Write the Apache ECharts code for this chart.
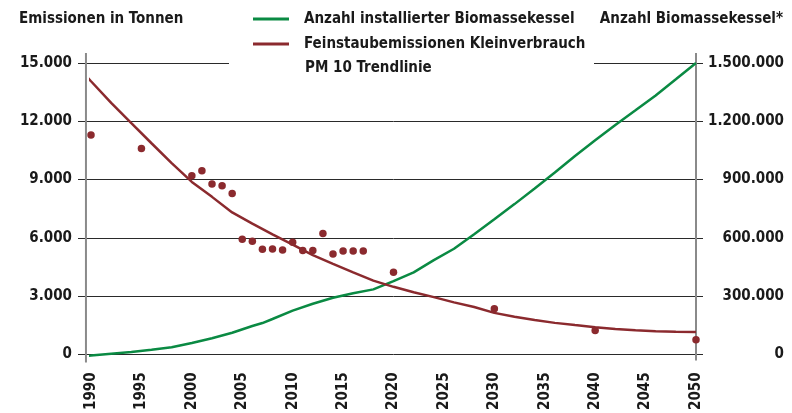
<!DOCTYPE html>
<html><head><meta charset="utf-8">
<script src="https://cdn.jsdelivr.net/npm/echarts@6/dist/echarts.min.js"></script>
<style>html,body{margin:0;padding:0;background:#fff}#c{width:792px;height:413px}</style>
</head><body><div id="c"></div>
<script>
const xTicks = [1990, 1995, 2000, 2005, 2010, 2015, 2020, 2025, 2030, 2035, 2040, 2045, 2050];
const leftTicks = [0, 3000, 6000, 9000, 12000, 15000];
const rightTicks = [0, 300000, 600000, 900000, 1200000, 1500000];

const trendYears = [1989.5,1990,1992,1994,1996,1998,2000,2002,2004,2006,2008,2010,2012,2014,2016,2018,2020,2022,2024,2026,2028,2030,2032,2034,2036,2038,2040,2042,2044,2046,2048,2050];
const trendValues = [14340,14060,12950,11900,10870,9850,8880,8110,7310,6735,6180,5650,5110,4660,4220,3800,3480,3200,2950,2680,2440,2140,1940,1770,1625,1510,1400,1310,1240,1200,1170,1150];

const boilerYears = [1989.5,1990,1992,1994,1996,1998,2000,2002,2004,2006,2007,2008,2010,2012,2014,2016,2018,2020,2022,2024,2026,2028,2030,2032,2034,2036,2038,2040,2042,2044,2046,2048,2050];
const boilerValues = [-8000,-6000,3200,12400,24100,36800,59000,83100,111400,146500,161600,182500,225200,261000,291500,314800,335000,376900,422400,485200,544000,618600,695600,773700,853800,936300,1021600,1102200,1181000,1256300,1333200,1416200,1500000];

const emissionYears = [1990,1995,2000,2001,2002,2003,2004,2005,2006,2007,2008,2009,2010,2011,2012,2013,2014,2015,2016,2017,2020,2030,2040,2050];
const emissionValues = [11300,10600,9200,9450,8770,8680,8280,5930,5820,5420,5430,5380,5770,5350,5350,6220,5170,5330,5330,5320,4230,2350,1230,750];

const names = ['Anzahl installierter Biomassekessel', 'Feinstaubemissionen Kleinverbrauch PM 10 Trendlinie', 'Feinstaubemissionen'];
const FONT = "'Liberation Sans Narrow', 'DejaVu Sans Condensed', 'Roboto Condensed', sans-serif";
const GREEN = '#0a8a43', RED = '#8b2a2e', GRID = '#2a2a2a', AXIS = '#8a8a8a';
const fmt = v => String(v).replace(/\B(?=(\d{3})+(?!\d))/g, '.');
const zip = (a, b) => a.map((x, i) => [x, b[i]]);

const chart = echarts.init(document.getElementById('c'), null, {renderer: 'canvas'});
const lbl = {fontFamily: FONT, fontWeight: 'bold', fontSize: 15, color: '#1a1a1a'};
chart.setOption({
  animation: false,
  backgroundColor: '#fff',
  title: [
    {text: 'Emissionen in Tonnen', left: 19, top: 12, padding: 0, textStyle: lbl},
    {text: 'Anzahl Biomassekessel*', right: 9, top: 12, padding: 0, textStyle: lbl},
    {text: 'PM 10 Trendlinie', left: 305, top: 61, padding: 0, textStyle: lbl}
  ],
  legend: {
    left: 253, top: 9, orient: 'vertical', padding: 0,
    itemWidth: 36, itemHeight: 3, itemGap: 5, icon: 'rect',
    data: [names[0], names[1]],
    formatter: n => n === names[1] ? 'Feinstaubemissionen Kleinverbrauch' : n,
    textStyle: Object.assign({}, lbl, {lineHeight: 20, padding: [0, 0, 0, 10]})
  },
  grid: {left: 91, right: 96, top: 63, bottom: 51},
  xAxis: {
    type: 'value', min: 1990, max: 2050, interval: 5,
    axisLine: {show: false}, axisTick: {show: false}, splitLine: {show: false},
    axisLabel: Object.assign({}, lbl, {rotate: 90, margin: 18, formatter: v => String(v)})
  },
  yAxis: [
    {type: 'value', min: 0, max: 15000, interval: 3000,
     axisLine: {show: false},
     axisTick: {show: true, length: 13, lineStyle: {color: GRID, width: 1}},
     splitLine: {show: true, lineStyle: {color: GRID, width: 1}},
     axisLabel: Object.assign({}, lbl, {margin: 19, formatter: fmt})},
    {type: 'value', min: 0, max: 1500000, interval: 300000, position: 'right',
     axisLine: {show: false},
     axisTick: {show: true, length: 7, lineStyle: {color: GRID, width: 1}},
     splitLine: {show: false},
     axisLabel: Object.assign({}, lbl, {margin: 88, align: 'right', formatter: fmt})}
  ],
  series: [
    {name: names[0], type: 'line', yAxisIndex: 1, data: zip(boilerYears, boilerValues), clip: false,
     symbol: 'none', color: GREEN, lineStyle: {color: GREEN, width: 2.5}, z: 3},
    {name: names[1], type: 'line', yAxisIndex: 0, data: zip(trendYears, trendValues), clip: false,
     symbol: 'none', color: RED, lineStyle: {color: RED, width: 2.5}, z: 3},
    {name: names[2], type: 'scatter', yAxisIndex: 0, data: zip(emissionYears, emissionValues),
     symbolSize: 7.5, itemStyle: {color: RED, opacity: 1}, z: 4}
  ]
});

const xl = chart.convertToPixel({xAxisIndex: 0}, 1989.5);
const xr = chart.convertToPixel({xAxisIndex: 0}, 2050);
const yTop = chart.convertToPixel({yAxisIndex: 0}, 15000);
const yBot = chart.convertToPixel({yAxisIndex: 0}, 0);
chart.setOption({
  graphic: [
    {type: 'rect', z: 1, shape: {x: 229, y: yTop - 4, width: 365, height: 8}, style: {fill: '#fff'}},
    {type: 'line', z: 1, shape: {x1: xl, y1: yTop - 10, x2: xl, y2: yBot + 8}, style: {stroke: AXIS, lineWidth: 2}},
    {type: 'line', z: 1, shape: {x1: xr, y1: yTop - 10, x2: xr, y2: yBot + 6}, style: {stroke: AXIS, lineWidth: 2}}
  ]
});
</script></body></html>
